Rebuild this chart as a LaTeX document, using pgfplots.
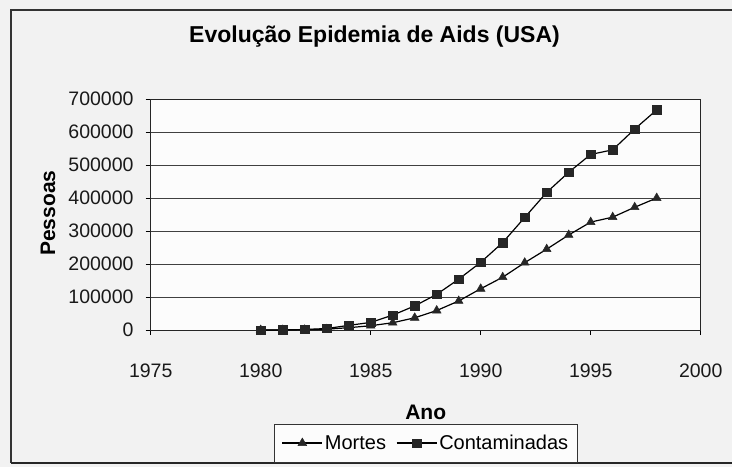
\documentclass[border=0pt]{standalone}
\usepackage{fontspec}
\setmainfont{Liberation Sans}
\usepackage{pgfplots}
\pgfplotsset{compat=1.18}
\begin{document}
\begin{tikzpicture}[x=1pt,y=1pt]
\useasboundingbox (0,0) rectangle (732,467);
\fill[black!5] (0,0) rectangle (732,467);
\draw[line width=1.3pt, black!80] (745,457) -- (11,457) -- (11,4);
\draw[line width=2.6pt, black!85] (11,4) -- (745,4);
\begin{axis}[
  at={(150.7pt,137pt)}, anchor=south west,
  scale only axis, width=550pt, height=231pt,
  xmin=1975, xmax=2000, ymin=0, ymax=700000,
  xtick={1975,1980,...,2000},
  ytick={0,100000,200000,300000,400000,500000,600000,700000},
  scaled y ticks=false,
  /pgf/number format/1000 sep={},
  /pgf/number format/assume math mode=true,
  yticklabel={\pgfmathprintnumber[fixed,precision=0,1000 sep={}]{\tick}},
  tick align=outside, major tick length=5pt,
  xtick pos=left, ytick pos=left,
  tick style={black, line width=0.8pt},
  ymajorgrids, grid style={black!75, line width=0.8pt},
  axis line style={black!85, line width=0.9pt},
  axis background/.style={fill=white!60!black!3},
  tick label style={font=\fontsize{19.5}{22}\selectfont, inner sep=0pt, text=black!90},
  yticklabel style={xshift=-12pt},
  xticklabel style={yshift=-29pt},
  title={Evolução Epidemia de Aids (USA)},
  title style={font=\fontsize{23}{26}\bfseries, at={(axis description cs:0.407,1)}, anchor=base, yshift=50.7pt, inner sep=0pt},
  xlabel={Ano},
  xlabel style={font=\fontsize{21}{24}\bfseries, at={(axis description cs:0.5,0)}, anchor=center, yshift=-82pt},
  ylabel={Pessoas},
  ylabel style={font=\fontsize{21}{24}\bfseries, at={(axis description cs:-0.1867,0.506)}, anchor=center},
  legend columns=2,
  legend style={font=\fontsize{20}{23}\selectfont, at={(axis description cs:0.5005,0)}, anchor=center, yshift=-113pt, draw=black!80, line width=0.8pt, fill=white!60!black!3, inner xsep=7pt, inner ysep=9pt, /tikz/every even column/.append style={column sep=8pt}},
  legend image code/.code={\draw[mark repeat=2,mark phase=2,#1] plot coordinates {(0pt,0pt) (20pt,0pt) (40pt,0pt)};},
]
\addplot[black, line width=1.2pt, mark=triangle*, mark size=5pt, mark options={fill=black!85, draw=black!85, line width=0.5pt}] coordinates {
(1980,0) (1981,200) (1982,800) (1983,2500) (1984,7000) (1985,13000)
(1986,22000) (1987,37000) (1988,59000) (1989,88000) (1990,125000)
(1991,160000) (1992,204000) (1993,245000) (1994,288000) (1995,327000)
(1996,342000) (1997,372000) (1998,400000)
};
\addlegendentry{Mortes}
\addplot[black, line width=1.2pt, mark=square*, mark size=4.2pt, mark options={fill=black!85, draw=black!85, line width=0.5pt}] coordinates {
(1980,0) (1981,300) (1982,1500) (1983,4500) (1984,14000) (1985,23000)
(1986,45000) (1987,73000) (1988,108000) (1989,154000) (1990,205000)
(1991,265000) (1992,341000) (1993,417000) (1994,478000) (1995,532000)
(1996,546000) (1997,609000) (1998,667000)
};
\addlegendentry{Contaminadas}
\end{axis}
\end{tikzpicture}
\end{document}
